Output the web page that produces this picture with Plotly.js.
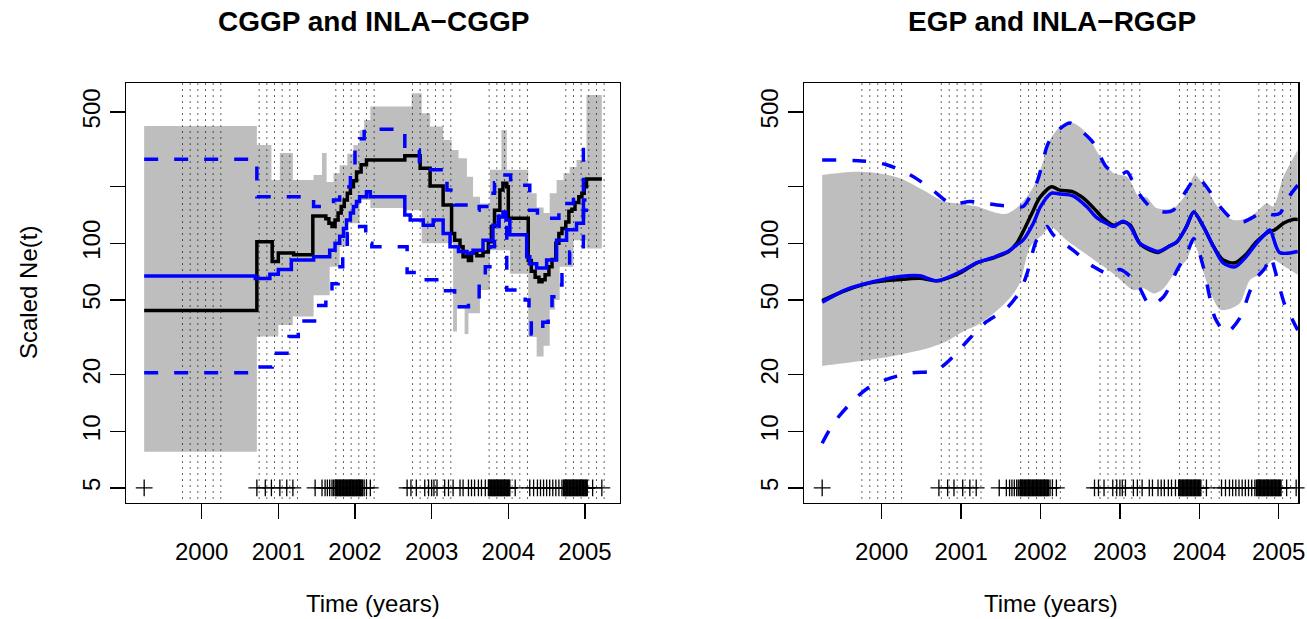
<!DOCTYPE html>
<html>
<head>
<meta charset="utf-8">
<script src="https://cdn.plot.ly/plotly-3.0.1.min.js"></script>
<style>html,body{margin:0;padding:0;background:#fff;}#chart{width:1307px;height:619px;}</style>
</head>
<body>
<div id="chart"></div>
<script>
// ---------- tick labels ----------
const xTickVals = [2000, 2001, 2002, 2003, 2004, 2005];
const xTickText = ['2000', '2001', '2002', '2003', '2004', '2005'];
const yTickVals = [5, 10, 20, 50, 100, 200, 500];
const yTickText = ['5', '10', '20', '50', '100', '', '500'];

// ---------- sampling times (rug of crosses at Ne = 5) ----------
const rugLevel = 5;
const sampleTimes = [
  1999.25,
  2000.72, 2000.83, 2000.91, 2001.02, 2001.11, 2001.19,
  2001.48, 2001.57, 2001.61, 2001.64, 2001.67, 2001.70, 2001.72,
  2001.74, 2001.75, 2001.76, 2001.77, 2001.78, 2001.79, 2001.80, 2001.81, 2001.82, 2001.83,
  2001.84, 2001.85, 2001.86, 2001.87, 2001.88, 2001.89, 2001.90, 2001.91, 2001.92, 2001.93,
  2001.94, 2001.95, 2001.96, 2001.97, 2001.98, 2001.99, 2002.00, 2002.01, 2002.02, 2002.03,
  2002.04, 2002.05, 2002.06, 2002.07, 2002.08, 2002.09, 2002.10,
  2002.12, 2002.15, 2002.20,
  2002.68, 2002.73, 2002.80, 2002.91, 2002.96, 2003.00, 2003.03, 2003.07, 2003.17, 2003.22,
  2003.28, 2003.37, 2003.41, 2003.48, 2003.52, 2003.56, 2003.61, 2003.65, 2003.70,
  2003.74, 2003.75, 2003.76, 2003.77, 2003.78, 2003.79, 2003.80, 2003.81, 2003.82, 2003.83,
  2003.84, 2003.85, 2003.86, 2003.87, 2003.88, 2003.89, 2003.90, 2003.91, 2003.92, 2003.93,
  2003.94, 2003.95, 2003.96, 2003.97, 2003.98, 2003.99, 2004.00, 2004.01, 2004.02,
  2004.09,
  2004.28, 2004.33, 2004.38, 2004.42, 2004.46, 2004.50, 2004.54, 2004.58, 2004.62, 2004.66, 2004.70,
  2004.72, 2004.73, 2004.74, 2004.75, 2004.76, 2004.77, 2004.78, 2004.79, 2004.80, 2004.81,
  2004.82, 2004.83, 2004.84, 2004.85, 2004.86, 2004.87, 2004.88, 2004.89, 2004.90, 2004.91,
  2004.92, 2004.93, 2004.94, 2004.95, 2004.96, 2004.97, 2004.98, 2004.99, 2005.00, 2005.01,
  2005.02, 2005.03,
  2005.10, 2005.22
];

// ---------- dotted season markers ----------
const seasonLines = [
  1999.75, 1999.85, 1999.95, 2000.05, 2000.15, 2000.25,
  2000.75, 2000.85, 2000.95, 2001.05, 2001.15, 2001.25,
  2001.75, 2001.85, 2001.95, 2002.05, 2002.15, 2002.25,
  2002.75, 2002.85, 2002.95, 2003.05, 2003.15, 2003.25,
  2003.75, 2003.85, 2003.95, 2004.05, 2004.15, 2004.25,
  2004.75, 2004.85, 2004.95, 2005.05, 2005.15, 2005.25
];

// ---------- LEFT PANEL: CGGP (black) and INLA-CGGP (blue) ----------
const cggpBandUpperX = [1999.25, 2000.72, 2000.91, 2001.02, 2001.19, 2001.46, 2001.57, 2001.63, 2001.72, 2001.80,
  2001.90, 2001.98, 2002.06, 2002.12, 2002.20, 2002.74, 2002.87, 2002.98, 2003.15, 2003.26, 2003.35, 2003.46,
  2003.54, 2003.63, 2003.76, 2003.91, 2003.98, 2004.26, 2004.37, 2004.46, 2004.54, 2004.63, 2004.72, 2004.80,
  2004.89, 2005.02, 2005.22];
const cggpBandUpperY = [421, 334, 217, 302, 217, 231, 302, 212, 236, 260,
  300, 334, 400, 453, 534, 628, 492, 418, 355, 314, 284, 226,
  177, 163, 246, 401, 246, 185, 155, 145, 185, 217, 236, 255,
  278, 616, 616];
const cggpBandLowerX = [1999.25, 2000.72, 2001.00, 2001.19, 2001.46, 2001.67, 2001.80, 2001.89, 2002.06, 2002.20,
  2002.65, 2002.87, 2003.28, 2003.33, 2003.43, 2003.48, 2003.63, 2003.76, 2004.02, 2004.26, 2004.37, 2004.46,
  2004.54, 2004.61, 2004.67, 2004.85, 2005.02, 2005.22];
const cggpBandLowerY = [7.8, 32, 36.8, 40.8, 53, 75, 96, 128, 170, 154,
  150, 100, 34, 45, 33, 42.5, 56.5, 92, 69, 31.8, 25, 28.5,
  44.5, 50, 75, 104, 94, 94];

const cggpX = [1999.25, 2000.72, 2000.92, 2001.00, 2001.20, 2001.45, 2001.62, 2001.66, 2001.70, 2001.74,
  2001.78, 2001.82, 2001.86, 2001.90, 2001.94, 2001.98, 2002.02, 2002.08, 2002.15, 2002.65,
  2002.85, 2002.98, 2003.15, 2003.26, 2003.30, 2003.37, 2003.41, 2003.48, 2003.52, 2003.59,
  2003.67, 2003.74, 2003.78, 2003.82, 2003.89, 2003.93, 2003.98, 2004.00, 2004.26, 2004.30,
  2004.35, 2004.40, 2004.44, 2004.48, 2004.53, 2004.57, 2004.62, 2004.66, 2004.70, 2004.75,
  2004.79, 2004.83, 2004.87, 2004.92, 2004.96, 2004.99, 2005.02, 2005.22];
const cggpY = [44, 102, 80, 89, 87, 140, 135, 128, 123, 133,
  145, 157, 170, 185, 200, 215, 240, 262, 278, 292,
  251, 202, 160, 113, 104, 96, 85, 81, 89, 86,
  90, 102, 123, 150, 192, 209, 200, 136, 81, 71,
  66, 62.5, 64, 68, 75, 82, 100, 113, 120, 130,
  148, 152, 165, 177, 185, 200, 220, 220];

const inlaCggpX = [1999.25, 2000.70, 2000.89, 2001.00, 2001.17, 2001.46, 2001.67, 2001.74, 2001.80, 2001.85,
  2001.89, 2001.94, 2001.98, 2002.02, 2002.06, 2002.15, 2002.20, 2002.65, 2002.72, 2002.89,
  2003.02, 2003.15, 2003.24, 2003.35, 2003.46, 2003.54, 2003.67, 2003.80, 2003.87, 2003.93,
  2003.97, 2004.02, 2004.24, 2004.28, 2004.37, 2004.50, 2004.63, 2004.76, 2004.89, 2004.98, 2005.02];
const inlaCggpY = [67, 65, 68.5, 72.6, 81.5, 85, 92, 100, 109, 120,
  133, 145, 157, 167, 177, 188, 177, 141.6, 133, 125,
  133, 113, 96, 90.5, 88.6, 92, 104, 125, 138, 147,
  133, 111, 85, 78, 74, 81.5, 104, 118, 128, 170, 170];

const inlaCggpUpperX = [1999.25, 2000.72, 2001.46, 2001.72, 2001.80, 2001.88, 2001.94, 2002.00, 2002.06, 2002.12,
  2002.65, 2002.84, 2003.20, 2003.30, 2003.48, 2003.62, 2003.72, 2003.82, 2003.90, 2004.03,
  2004.28, 2004.38, 2004.66, 2004.85, 2004.98, 2005.04];
const inlaCggpUpperY = [280, 177, 157, 170, 185, 200, 246, 314, 360, 405,
  314, 246, 192, 160, 150, 157, 185, 210, 231, 204,
  150, 136, 163, 175, 355, 355];

const inlaCggpLowerX = [1999.25, 2000.72, 2000.92, 2001.14, 2001.26, 2001.50, 2001.62, 2001.70, 2001.78, 2001.84,
  2001.90, 2001.96, 2002.14, 2002.22, 2002.68, 2002.88, 2003.18, 2003.30, 2003.48, 2003.62,
  2003.70, 2003.76, 2003.82, 2003.88, 2003.98, 2004.22, 2004.27, 2004.30, 2004.45, 2004.52,
  2004.57, 2004.63, 2004.70, 2004.80, 2004.90, 2004.98, 2005.04];
const inlaCggpLowerY = [20.5, 22, 26, 32, 38.7, 46.7, 56, 61, 75, 95,
  113, 123, 100, 96, 70, 64, 56, 46, 50, 62,
  75, 96, 113, 140, 56.5, 50, 42.5, 33, 38, 42.5,
  52, 60, 68, 90, 96, 150, 150];

// ---------- RIGHT PANEL: EGP (black) and INLA-RGGP (blue) ----------
const egpBandUpperX = [1999.25, 1999.60, 1999.89, 2000.23, 2000.52, 2000.78, 2000.95, 2001.20, 2001.45, 2001.57,
  2001.74, 2001.91, 2002.04, 2002.12, 2002.25, 2002.39, 2002.54, 2002.75, 2002.92, 2003.09,
  2003.25, 2003.33, 2003.46, 2003.67, 2003.84, 2003.94, 2004.07, 2004.26, 2004.43, 2004.64,
  2004.85, 2004.93, 2005.06, 2005.24];
const egpBandUpperY = [231, 240, 238, 222, 192, 167, 163, 157, 145, 143.6,
  160, 200, 278, 355, 418, 440, 401, 290, 236, 226,
  174, 177, 154, 154, 185, 231, 200, 150.5, 133, 138,
  163, 157, 226, 314];
const egpBandLowerX = [1999.25, 1999.69, 2000.11, 2000.53, 2000.82, 2001.03, 2001.20, 2001.41, 2001.62, 2001.74,
  2001.87, 2002.04, 2002.12, 2002.33, 2002.62, 2002.92, 2003.17, 2003.30, 2003.43, 2003.55,
  2003.72, 2003.84, 2003.93, 2004.07, 2004.13, 2004.26, 2004.39, 2004.51, 2004.64, 2004.77,
  2004.93, 2005.08, 2005.24];
const egpBandLowerY = [22.3, 23.5, 25, 27.3, 30.2, 34.1, 36.7, 42.5, 51.6, 61.7,
  96, 113, 123, 104, 85, 69, 56.5, 57.6, 54.2, 57.6,
  72.6, 81.5, 100, 66.6, 56.5, 44.5, 44.9, 48, 64, 69,
  81.5, 75, 68];

const egpX = [1999.25, 1999.56, 1999.89, 2000.19, 2000.48, 2000.70, 2000.89, 2001.00, 2001.20, 2001.40,
  2001.60, 2001.70, 2001.80, 2001.91, 2001.99, 2002.14, 2002.24, 2002.41, 2002.54, 2002.67,
  2002.79, 2002.92, 2003.04, 2003.13, 2003.25, 2003.38, 2003.48, 2003.61, 2003.72, 2003.84,
  2003.93, 2004.05, 2004.18, 2004.30, 2004.45, 2004.58, 2004.72, 2004.87, 2004.95, 2005.06,
  2005.18, 2005.24];
const egpY = [49.6, 56.5, 62, 64, 65.2, 63.2, 66.7, 70, 78.8, 83.6,
  90.5, 100, 120, 150, 175, 200, 192, 188, 174, 154,
  136, 125, 130, 125, 100, 92, 89.5, 96, 102, 123,
  147, 123, 96, 81.5, 78.8, 86.6, 102, 115, 117.7, 128,
  134, 134];

const inlaRggpX = [1999.25, 1999.56, 1999.89, 2000.23, 2000.48, 2000.69, 2001.00, 2001.20, 2001.40, 2001.60,
  2001.70, 2001.78, 2001.91, 2002.00, 2002.14, 2002.24, 2002.41, 2002.58, 2002.70, 2002.83,
  2002.92, 2003.04, 2003.13, 2003.25, 2003.38, 2003.48, 2003.61, 2003.72, 2003.84, 2003.93,
  2004.05, 2004.18, 2004.30, 2004.45, 2004.58, 2004.72, 2004.83, 2004.89, 2005.01, 2005.24];
const inlaRggpY = [48.6, 57, 62.5, 66.7, 67.2, 63.2, 71, 79, 84, 91,
  98, 104, 128, 157, 185, 183, 179, 157, 138, 128,
  123, 131, 123, 100, 93.5, 90.5, 96, 102, 123, 147,
  123, 96, 78.8, 75, 84, 100, 112, 117.7, 89.5, 90.5];

const inlaRggpUpperX = [1999.25, 1999.75, 2000.06, 2000.36, 2000.61, 2000.82, 2000.90, 2001.11, 2001.24, 2001.45,
  2001.70, 2001.78, 2001.95, 2002.08, 2002.12, 2002.25, 2002.37, 2002.50, 2002.67, 2002.83,
  2003.00, 2003.09, 2003.21, 2003.38, 2003.55, 2003.67, 2003.84, 2003.97, 2004.09, 2004.26,
  2004.43, 2004.55, 2004.68, 2004.81, 2004.93, 2005.02, 2005.10, 2005.24];
const inlaRggpUpperY = [278, 274.5, 262, 231, 197, 167, 162, 167, 165, 160,
  157, 157, 209, 327, 355, 409, 437, 401, 341, 255,
  231, 240, 192, 157, 147, 150, 192, 226, 200, 157,
  133, 130, 138, 147, 142, 145, 170, 204];

const inlaRggpLowerX = [1999.25, 1999.39, 1999.60, 1999.81, 2000.06, 2000.36, 2000.65, 2000.76, 2000.90, 2001.11,
  2001.32, 2001.57, 2001.74, 2001.83, 2001.95, 2002.08, 2002.16, 2002.41, 2002.67, 2002.88,
  2003.00, 2003.21, 2003.38, 2003.55, 2003.72, 2003.86, 2003.93, 2004.05, 2004.13, 2004.20,
  2004.34, 2004.51, 2004.64, 2004.74, 2004.83, 2004.89, 2004.99, 2005.07, 2005.15, 2005.24];
const inlaRggpLowerY = [8.65, 11, 14, 16.8, 18.9, 20.4, 20.9, 22.1, 25, 31.3,
  38.3, 45, 55.5, 69, 104, 123, 111, 92, 75, 68.5,
  72.6, 61.7, 47, 52, 72, 92, 106, 75, 52, 40,
  33.5, 40, 56, 67, 74, 85.4, 63, 48, 41, 34.5];

// ---------- styling ----------
const FONT = 'Liberation Sans, Arial, Helvetica, sans-serif';
const GRAY = '#BEBEBE';
const BLUE = '#0000FF';
const LW = 3.5;
const DASH = '14px,16px';
const yRangeLog = [0.619, 2.853];

function seasonTrace(xa, ya) {
  const xs = [], ys = [];
  const lo = Math.pow(10, yRangeLog[0]) * 0.98, hi = Math.pow(10, yRangeLog[1]) * 1.02;
  seasonLines.forEach(v => { xs.push(v, v, null); ys.push(lo, hi, null); });
  return {x: xs, y: ys, xaxis: xa, yaxis: ya, mode: 'lines', hoverinfo: 'skip',
    line: {color: '#000', width: 1, dash: '1.2px,4.8px'}, connectgaps: false};
}
function rugTrace(xa, ya) {
  return {x: sampleTimes, y: sampleTimes.map(() => rugLevel), xaxis: xa, yaxis: ya, mode: 'markers',
    marker: {symbol: 'cross-thin', size: 12, color: '#000', line: {color: '#000', width: 1.3}}, cliponaxis: false};
}
function bandTraces(lx, ly, ux, uy, xa, ya, shape) {
  return [
    {x: lx, y: ly, xaxis: xa, yaxis: ya, mode: 'lines', line: {width: 0, shape: shape, smoothing: 0.8, color: GRAY}, hoverinfo: 'skip'},
    {x: ux, y: uy, xaxis: xa, yaxis: ya, mode: 'lines', fill: 'tonexty', fillcolor: GRAY,
     line: {width: 0, shape: shape, smoothing: 0.8, color: GRAY}, hoverinfo: 'skip'}
  ];
}
function lineTrace(x, y, xa, ya, color, dash, shape) {
  return {x: x, y: y, xaxis: xa, yaxis: ya, mode: 'lines',
    line: {color: color, width: LW, dash: dash, shape: shape, smoothing: 0.8}};
}

const traces = [].concat(
  bandTraces(cggpBandLowerX, cggpBandLowerY, cggpBandUpperX, cggpBandUpperY, 'x', 'y', 'hv'),
  [seasonTrace('x', 'y'), rugTrace('x', 'y'),
   lineTrace(cggpX, cggpY, 'x', 'y', '#000', 'solid', 'hv'),
   lineTrace(inlaCggpX, inlaCggpY, 'x', 'y', BLUE, 'solid', 'hv'),
   lineTrace(inlaCggpUpperX, inlaCggpUpperY, 'x', 'y', BLUE, DASH, 'hv'),
   lineTrace(inlaCggpLowerX, inlaCggpLowerY, 'x', 'y', BLUE, DASH, 'hv')],
  bandTraces(egpBandLowerX, egpBandLowerY, egpBandUpperX, egpBandUpperY, 'x2', 'y2', 'spline'),
  [seasonTrace('x2', 'y2'), rugTrace('x2', 'y2'),
   lineTrace(egpX, egpY, 'x2', 'y2', '#000', 'solid', 'spline'),
   lineTrace(inlaRggpX, inlaRggpY, 'x2', 'y2', BLUE, 'solid', 'spline'),
   lineTrace(inlaRggpUpperX, inlaRggpUpperY, 'x2', 'y2', BLUE, DASH, 'spline'),
   lineTrace(inlaRggpLowerX, inlaRggpLowerY, 'x2', 'y2', BLUE, DASH, 'spline')]
);

const W = 1307, H = 619;
const yDomain = [(H - 503) / H, (H - 83) / H];
function xAxis(domain, range, anchor) {
  return {domain: domain, range: range, anchor: anchor, tickmode: 'array', tickvals: xTickVals, ticktext: xTickText,
    ticks: 'outside', ticklen: 15, tickwidth: 1.3, tickcolor: '#000', showline: true, mirror: true,
    linecolor: '#000', linewidth: 1.3, showgrid: false, zeroline: false, ticklabelstandoff: 12,
    tickfont: {family: FONT, size: 24, color: '#000'}};
}
function yAxis(anchor) {
  return {domain: yDomain, type: 'log', range: yRangeLog, anchor: anchor, tickmode: 'array',
    tickvals: yTickVals, ticktext: yTickText, tickangle: -90,
    ticks: 'outside', ticklen: 15, tickwidth: 1.3, tickcolor: '#000', showline: true, mirror: true,
    linecolor: '#000', linewidth: 1.3, showgrid: false, zeroline: false,
    tickfont: {family: FONT, size: 24, color: '#000'}};
}

const layout = {
  width: W, height: H, margin: {l: 0, r: 0, t: 0, b: 0}, showlegend: false,
  paper_bgcolor: '#fff', plot_bgcolor: '#fff',
  xaxis: xAxis([126 / W, 620 / W], [1999.013, 2005.457], 'y'),
  yaxis: yAxis('x'),
  xaxis2: xAxis([804 / W, 1298.3 / W], [1999.021, 2005.247], 'y2'),
  yaxis2: yAxis('x2'),
  annotations: [
    {text: '<b>CGGP and INLA\u2212CGGP</b>', xref: 'paper', yref: 'paper', x: 373 / W, y: 1 - 22 / H,
     xanchor: 'center', yanchor: 'middle', showarrow: false, font: {family: FONT, size: 28, color: '#000'}},
    {text: '<b>EGP and INLA\u2212RGGP</b>', xref: 'paper', yref: 'paper', x: 1052 / W, y: 1 - 22 / H,
     xanchor: 'center', yanchor: 'middle', showarrow: false, font: {family: FONT, size: 28, color: '#000'}},
    {text: 'Time (years)', xref: 'paper', yref: 'paper', x: 373 / W, y: 1 - 603 / H,
     xanchor: 'center', yanchor: 'middle', showarrow: false, font: {family: FONT, size: 24, color: '#000'}},
    {text: 'Time (years)', xref: 'paper', yref: 'paper', x: 1051 / W, y: 1 - 603 / H,
     xanchor: 'center', yanchor: 'middle', showarrow: false, font: {family: FONT, size: 24, color: '#000'}},
    {text: 'Scaled Ne(t)', xref: 'paper', yref: 'paper', x: 28 / W, y: 1 - 293 / H, textangle: -90,
     xanchor: 'center', yanchor: 'middle', showarrow: false, font: {family: FONT, size: 24, color: '#000'}}
  ]
};

Plotly.newPlot('chart', traces, layout, {displayModeBar: false, staticPlot: true});
</script>
</body>
</html>
